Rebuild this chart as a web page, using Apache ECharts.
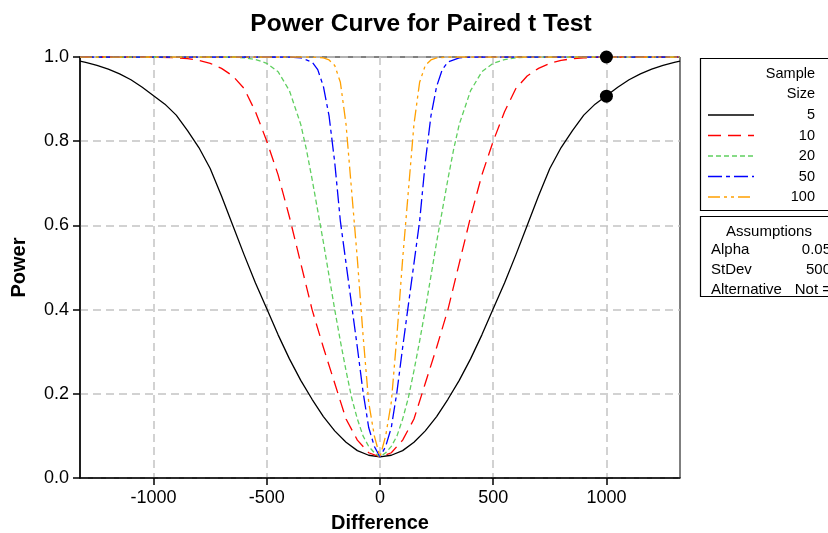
<!DOCTYPE html>
<html>
<head>
<meta charset="utf-8">
<script src="https://cdn.jsdelivr.net/npm/echarts@6/dist/echarts.min.js"></script>
<style>
  html, body { margin: 0; padding: 0; background: #fff; }
  #chart { width: 828px; height: 533px; }
</style>
</head>
<body>
<div id="chart"></div>
<script>
// values
const sampleSizes = ['5', '10', '20', '50', '100']

const diff5 = [-1325, -1300, -1250, -1200, -1150, -1100, -1050, -1000, -950, -900, -850, -800, -750, -700, -650, -600, -550, -500, -450, -400, -350, -300, -250, -200, -150, -100, -50,
  0, 50, 100, 150, 200, 250, 300, 350, 400, 450, 500, 550, 600, 650, 700, 750, 800, 850, 900, 950, 1000, 1050, 1100, 1150, 1200, 1250, 1300, 1325]
const power5 = [0.990, 0.987, 0.980, 0.971, 0.960, 0.946, 0.928, 0.908, 0.888, 0.862, 0.825, 0.785, 0.735, 0.670, 0.600, 0.530, 0.463, 0.402, 0.340, 0.283, 0.232, 0.187, 0.146, 0.112, 0.085, 0.065, 0.054,
  0.050, 0.054, 0.065, 0.085, 0.112, 0.146, 0.187, 0.232, 0.283, 0.340, 0.402, 0.463, 0.530, 0.600, 0.670, 0.735, 0.785, 0.825, 0.862, 0.888, 0.908, 0.928, 0.946, 0.960, 0.971, 0.980, 0.987, 0.990]

const diff10 = [-1325, -1000, -900, -850, -800, -750, -700, -650, -600, -550, -500, -450, -400, -350, -300, -250, -200, -150, -100, -50,
  0, 50, 100, 150, 200, 250, 300, 350, 400, 450, 500, 550, 600, 650, 700, 750, 800, 850, 900, 1000, 1325]
const power10 = [1.0, 1.0, 0.998, 0.996, 0.992, 0.985, 0.973, 0.955, 0.925, 0.870, 0.800, 0.720, 0.620, 0.510, 0.400, 0.310, 0.225, 0.140, 0.090, 0.060,
  0.050, 0.060, 0.090, 0.140, 0.225, 0.310, 0.400, 0.510, 0.620, 0.720, 0.800, 0.870, 0.925, 0.955, 0.973, 0.985, 0.992, 0.996, 0.998, 1.0, 1.0]

const diff20 = [-1325, -650, -600, -550, -500, -450, -400, -375, -350, -325, -300, -275, -250, -225, -200, -175, -150, -125, -100, -75, -50, -25,
  0, 25, 50, 75, 100, 125, 150, 175, 200, 225, 250, 275, 300, 325, 350, 375, 400, 450, 500, 550, 600, 650, 1325]
const power20 = [1.0, 1.0, 0.998, 0.994, 0.985, 0.965, 0.920, 0.880, 0.840, 0.780, 0.710, 0.635, 0.560, 0.480, 0.400, 0.325, 0.255, 0.190, 0.140, 0.100, 0.075, 0.060,
  0.050, 0.060, 0.075, 0.100, 0.140, 0.190, 0.255, 0.325, 0.400, 0.480, 0.560, 0.635, 0.710, 0.780, 0.840, 0.880, 0.920, 0.965, 0.985, 0.994, 0.998, 1.0, 1.0]

const diff50 = [-1325, -400, -350, -300, -275, -250, -225, -200, -175, -150, -125, -100, -75, -50, -25,
  0, 25, 50, 75, 100, 125, 150, 175, 200, 225, 250, 275, 300, 350, 400, 1325]
const power50 = [1.0, 1.0, 0.998, 0.988, 0.970, 0.930, 0.860, 0.750, 0.610, 0.510, 0.410, 0.310, 0.205, 0.120, 0.075,
  0.050, 0.075, 0.120, 0.205, 0.310, 0.410, 0.510, 0.610, 0.750, 0.860, 0.930, 0.970, 0.988, 0.998, 1.0, 1.0]

const diff100 = [-1325, -300, -250, -225, -200, -175, -150, -125, -100, -75, -50, -25,
  0, 25, 50, 75, 100, 125, 150, 175, 200, 225, 250, 300, 1325]
const power100 = [1.0, 1.0, 0.998, 0.993, 0.980, 0.940, 0.840, 0.680, 0.520, 0.340, 0.180, 0.100,
  0.050, 0.100, 0.180, 0.340, 0.520, 0.680, 0.840, 0.940, 0.980, 0.993, 0.998, 1.0, 1.0]

// highlighted points at difference 1000
const markDiff = [1000, 1000]
const markPower = [1.0, 0.907]

const xTicks = [-1000, -500, 0, 500, 1000]

const assumptionLabels = ['Alpha', 'StDev', 'Alternative']
const assumptionValues = ['0.05', '500', 'Not =']

const curves = [
  { name: '5', x: diff5, y: power5, color: '#000000', dash: 'solid' },
  { name: '10', x: diff10, y: power10, color: '#ff0000', dash: [13, 7] },
  { name: '20', x: diff20, y: power20, color: '#5fcf5f', dash: [5, 3] },
  { name: '50', x: diff50, y: power50, color: '#0000ff', dash: [14, 4, 4, 4] },
  { name: '100', x: diff100, y: power100, color: '#ffa000', dash: [12, 4, 3, 4, 3, 4] }
]

const FONT = '"Liberation Sans", Arial, sans-serif'

const chart = echarts.init(document.getElementById('chart'))

const graphic = [
  // legend box
  { type: 'rect', shape: { x: 700.5, y: 58.5, width: 150, height: 152 }, style: { fill: '#fff', stroke: '#000', lineWidth: 1.2 } },
  { type: 'text', style: { text: 'Sample', x: 815, y: 74, textAlign: 'right', textVerticalAlign: 'middle', font: '14.5px ' + FONT, fill: '#000' } },
  { type: 'text', style: { text: 'Size', x: 815, y: 94, textAlign: 'right', textVerticalAlign: 'middle', font: '14.5px ' + FONT, fill: '#000' } },
  // assumptions box
  { type: 'rect', shape: { x: 700.5, y: 216.5, width: 150, height: 80 }, style: { fill: '#fff', stroke: '#000', lineWidth: 1.2 } },
  { type: 'text', style: { text: 'Assumptions', x: 769, y: 232, textAlign: 'center', textVerticalAlign: 'middle', font: '15px ' + FONT, fill: '#000' } }
]

curves.forEach((c, i) => {
  const y = 115 + i * 20.5
  graphic.push({ type: 'line', shape: { x1: 708, y1: y, x2: 754, y2: y }, style: { stroke: c.color, lineWidth: 1.3, lineDash: c.dash === 'solid' ? null : c.dash } })
  graphic.push({ type: 'text', style: { text: sampleSizes[i], x: 815, y: y, textAlign: 'right', textVerticalAlign: 'middle', font: '14.5px ' + FONT, fill: '#000' } })
})

assumptionLabels.forEach((t, i) => {
  const y = 250 + i * 20
  graphic.push({ type: 'text', style: { text: t, x: 711, y: y, textAlign: 'left', textVerticalAlign: 'middle', font: '15px ' + FONT, fill: '#000' } })
  graphic.push({ type: 'text', style: { text: assumptionValues[i], x: 831, y: y, textAlign: 'right', textVerticalAlign: 'middle', font: '15px ' + FONT, fill: '#000' } })
})

const option = {
  backgroundColor: '#fff',
  animation: false,
  title: {
    text: 'Power Curve for Paired t Test',
    left: 416,
    top: 7,
    textAlign: 'center',
    textStyle: { fontFamily: FONT, fontSize: 24.5, fontWeight: 'bold', color: '#000' }
  },
  grid: {
    left: 80,
    right: 148,
    top: 57,
    bottom: 55,
    show: true,
    borderColor: '#000',
    borderWidth: 1,
    outerBoundsMode: 'none',
    containLabel: false
  },
  xAxis: {
    type: 'value',
    min: -1325,
    max: 1325,
    name: 'Difference',
    nameLocation: 'middle',
    nameGap: 35,
    nameTextStyle: { fontFamily: FONT, fontSize: 20, fontWeight: 'bold', color: '#000' },
    axisLine: { onZero: false, lineStyle: { color: '#000', width: 1.5 } },
    axisTick: { show: true, length: 7, lineStyle: { color: '#000', width: 1.5 }, customValues: xTicks },
    axisLabel: { color: '#000', fontFamily: FONT, fontSize: 18, margin: 11, customValues: xTicks, formatter: v => String(v) },
    splitLine: { show: true, lineStyle: { color: '#c4c4c4', type: [8, 5], width: 1.5 } }
  },
  yAxis: {
    type: 'value',
    min: 0,
    max: 1,
    interval: 0.2,
    name: 'Power',
    nameLocation: 'middle',
    nameGap: 51,
    nameTextStyle: { fontFamily: FONT, fontSize: 20, fontWeight: 'bold', color: '#000' },
    axisLine: { show: true, onZero: false, lineStyle: { color: '#000', width: 1.5 } },
    axisTick: { show: true, length: 7, lineStyle: { color: '#000', width: 1.5 } },
    axisLabel: { color: '#000', fontFamily: FONT, fontSize: 18, margin: 11, formatter: v => v.toFixed(1) },
    splitLine: { show: true, lineStyle: { color: '#c4c4c4', type: [8, 5], width: 1.5 } }
  },
  graphic: graphic,
  series: curves.map(c => ({
    name: c.name,
    type: 'line',
    data: c.x.map((d, i) => [d, c.y[i]]),
    showSymbol: false,
    clip: true,
    lineStyle: { color: c.color, width: 1.3, type: c.dash }
  })).concat([{
    type: 'scatter',
    data: markDiff.map((d, i) => [d, markPower[i]]),
    symbolSize: 13,
    itemStyle: { color: '#000', opacity: 1 },
    z: 10
  }])
}

chart.setOption(option)
</script>
</body>
</html>
